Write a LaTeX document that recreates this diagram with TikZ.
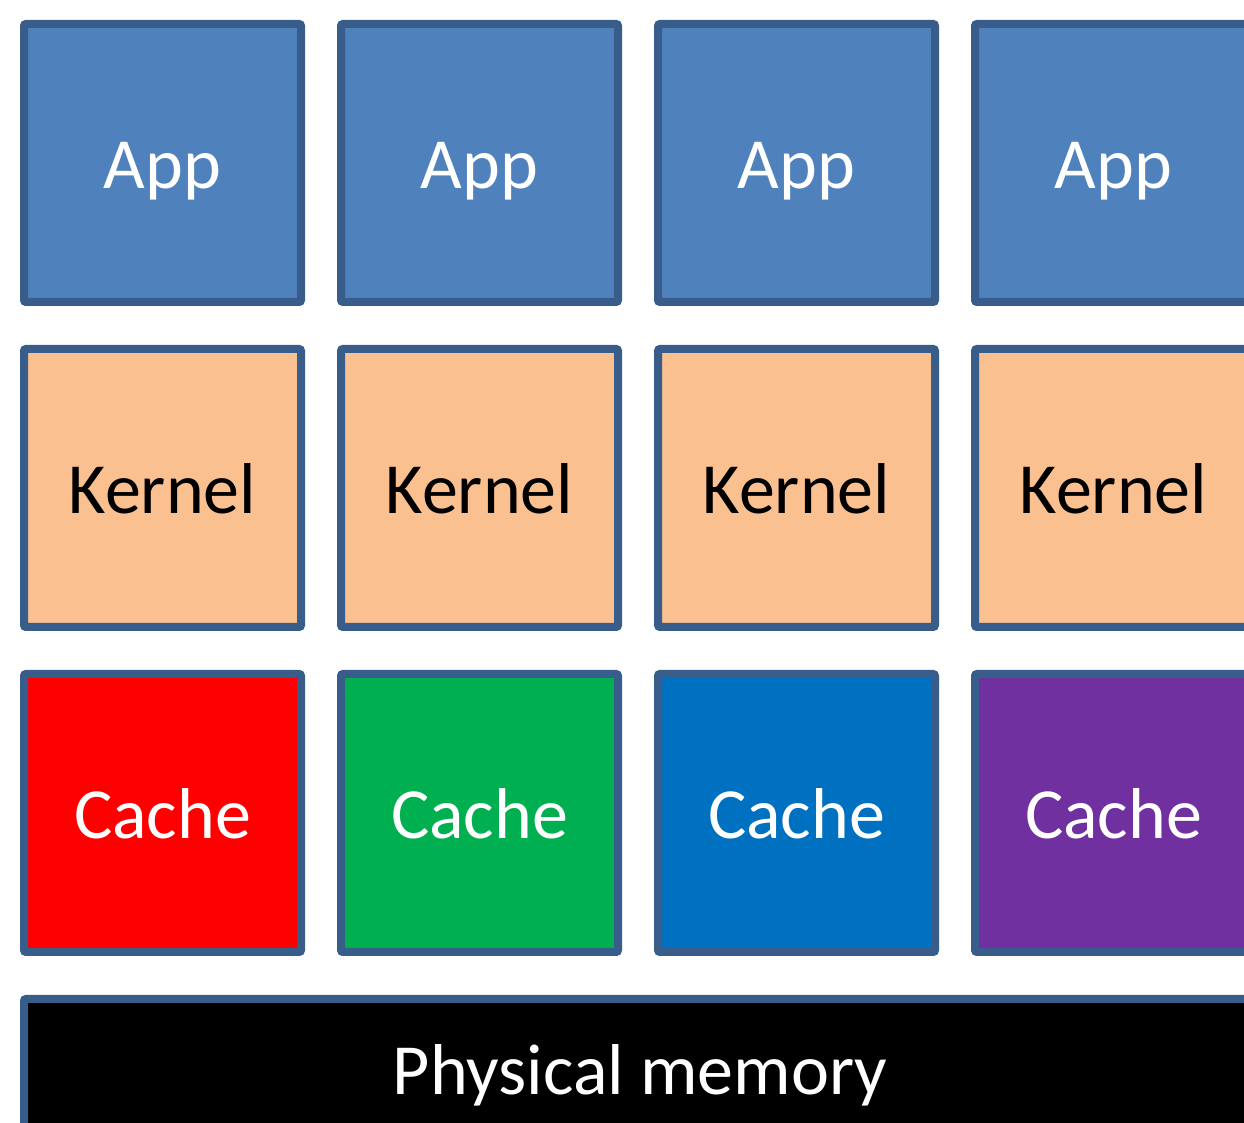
\documentclass[tikz,border=0pt]{standalone}
\usepackage{fontspec}
\setmainfont{Carlito}
\usepackage{xcolor}
\usetikzlibrary{positioning}

\definecolor{appblue}{HTML}{4F81BD}
\definecolor{edgeblue}{HTML}{385D8A}
\definecolor{kernelpeach}{HTML}{FAC090}
\definecolor{cachered}{HTML}{FF0000}
\definecolor{cachegreen}{HTML}{00B050}
\definecolor{cacheblue}{HTML}{0070C0}
\definecolor{cachepurple}{HTML}{7030A0}

\begin{document}
\begin{tikzpicture}[x=1pt, y=1pt, node distance=39pt and 32pt,
    block/.style={rectangle, draw=edgeblue, line width=8pt, rounded corners=2pt, minimum width=277pt, minimum height=278pt, inner sep=0pt, text height=51pt, text depth=0pt, font=\fontsize{72}{86}\selectfont},
    app/.style={block, fill=appblue, text=white},
    kernel/.style={block, fill=kernelpeach, text=black},
    cache/.style={block, text=white}]

    \useasboundingbox (0,0) rectangle (1244,1123);
    \clip (0,0) rectangle (1244,1123);

    % first column
    \node[app, anchor=north west] (app1) at (20,1103) {App};
    \node[kernel, below=of app1] (kernel1) {Kernel};
    \node[cache, fill=cachered, below=of kernel1] (cache1) {Cache};

    % other columns
    \foreach \i/\c in {2/cachegreen, 3/cacheblue, 4/cachepurple} {
        \pgfmathtruncatemacro{\j}{\i-1}
        \node[app, right=of app\j] (app\i) {App};
        \node[kernel, right=of kernel\j] (kernel\i) {Kernel};
        \node[cache, fill=\c, right=of cache\j] (cache\i) {Cache};
    }

    \node[block, fill=black, text=white, minimum width=1232pt, minimum height=140pt,
        below=of cache1.south west, anchor=north west] (mem) {Physical memory};
\end{tikzpicture}
\end{document}
